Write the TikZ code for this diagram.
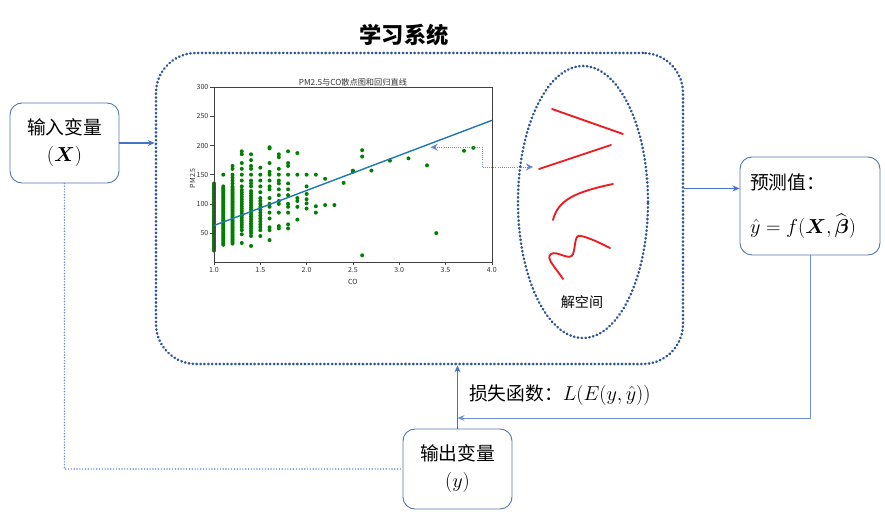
\documentclass[tikz,border=0pt]{standalone}
\usepackage{amsmath,amssymb}
\usepackage{fontspec}
\setmainfont{Noto Sans CJK SC}
\usepackage{tikz}
\usetikzlibrary{shapes.geometric, arrows.meta, positioning}
\definecolor{primary}{RGB}{47,85,151}
\definecolor{linkblue}{RGB}{68,114,196}
\definecolor{softblue}{RGB}{110,142,204}
\definecolor{boxedge}{RGB}{84,120,170}
\definecolor{dotgreen}{RGB}{0,128,0}
\definecolor{fitblue}{RGB}{31,119,180}
\definecolor{redline}{RGB}{232,30,36}
\tikzset{
    varbox/.style={rectangle, rounded corners=0.36cm, draw=boxedge, line width=0.8pt, minimum width=3.27cm, minimum height=2.4cm, text centered, align=center, font=\fontsize{16}{23}\selectfont},
    dotline/.style={draw=primary, line width=2.2pt, line cap=round, dash pattern=on 0.4pt off 2.9pt},
    flow/.style={-{Stealth[length=6pt,width=5pt]}, line width=1.1pt, draw=linkblue},
    back/.style={-{Stealth[length=6pt,width=5pt]}, line width=0.8pt, draw=softblue},
    link/.style={draw=softblue, line width=1.4pt, line cap=round, dash pattern=on 0pt off 2.4pt},
    pointer/.style={{Stealth[length=6pt,width=6pt,fill=linkblue]}-{Stealth[length=6pt,width=6pt,fill=linkblue]}, draw=softblue, line width=0.8pt, densely dotted},
    ticklab/.style={font=\fontsize{6}{7}\selectfont, text=black!80, inner sep=1.5pt},
    solution/.style={draw=redline, line width=1.6pt, line cap=round}
}

\begin{document}
\begin{tikzpicture}[x=0.03cm, y=-0.03cm]
    \useasboundingbox (0,0) rectangle (885,517);

    % Learning system
    \node[rectangle, rounded corners=1.2cm, dotline, minimum width=15.81cm, minimum height=9.33cm] (sys) at (419.5,208.5) {};
    \node[font=\fontsize{19}{22}\selectfont\bfseries] (title) at (404,35) {学习系统};

    % Scatter points
    \foreach \c/\ys in {1.0/{20,22.5,...,135}, 1.1/{30,32.5,...,130,150},
        1.2/{32,34.5,...,130,135,140,145,150,160,165},
        1.3/{33,48,55,60,64,...,124,130,140,150,160,170,185,190},
        1.4/{28,45,50,54,...,122,130,135,140,150,160,165,175,185},
        1.5/{45,55,60,...,110,120,130,140,150,162},
        1.6/{38,55,60,75,85,95,100,110,125,130,140,150,155,170,195,197},
        1.7/{58,62,85,100,105,115,125,135,140,150,160,180,185},
        1.8/{58,65,85,95,100,115,125,135,150,165,170,190},
        1.9/{73,95,105,110,150,187}, 2.0/{92,101,108,117,130,150},
        2.1/{85,96,150}, 2.2/{98,143}, 2.3/{98}, 2.4/{136}, 2.5/{155,157},
        2.6/{12,181,192}, 2.7/{157}, 2.9/{174}, 3.1/{178}, 3.3/{166},
        3.4/{50}, 3.7/{191}, 3.8/{196}} {
        \foreach \v in \ys {
            \fill[dotgreen] (121.4+92.6*\c, 262.3-0.584*\v) circle[radius=2];
        }
    }

    % Plot frame, fit line and ticks
    \begin{scope}[shift={(121.4,262.3)}, xscale=92.6, yscale=-0.584]
        \draw[black!75, line width=0.5pt] (1,0) rectangle (4,300);
        \draw[fitblue, line width=1.2pt] (1,63) -- (4,243);
        \foreach \v in {50,100,150,200,250,300} {
            \draw[black!75, line width=0.4pt] (1,\v) -- ++(-0.04,0) node[left, ticklab] {\v};
        }
        \foreach \c in {1.0,1.5,2.0,2.5,3.0,3.5,4.0} {
            \draw[black!75, line width=0.4pt] (\c,0) -- ++(0,-5) node[below, ticklab] {\c};
        }
        \node[font=\fontsize{7}{8}\selectfont, text=black!80] (ptitle) at (2.5,308) {PM2.5与CO散点图和回归直线};
        \node[ticklab, rotate=90] (ylab) at (0.77,144) {PM2.5};
        \node[ticklab] (xlab) at (2.5,-34) {CO};
        \coordinate (reg) at (3.34,197);
    \end{scope}

    % Solution space
    \node[ellipse, dotline, minimum width=3.9cm, minimum height=8.16cm] (space) at (583,202) {};
    \node[font=\fontsize{12}{14}\selectfont] (spacelab) at (582,302) {解空间};
    \draw[solution] (552,109) -- (623,134);
    \draw[solution] (539,169) -- (611,145);
    \draw[solution] (553,220) .. controls (558,200) and (575,192) .. (613,184);
    \draw[solution] (563,279) .. controls (556,268) and (545,258) .. (551,254)
        .. controls (557,250) and (570,262) .. (573,254)
        .. controls (576,246) and (574,234) .. (581,236)
        .. controls (590,238) and (600,243) .. (610,248);

    % Fit line to solution space
    \coordinate (bend) at (482,157);
    \coordinate (sol) at (533,167);
    \draw[pointer] (reg) -| (bend) |- (sol);

    % Input, prediction and output
    \node[varbox] (inp) at (64.5,143) {输入变量\\$(\boldsymbol{X})$};
    \node[varbox, minimum width=4.2cm, minimum height=2.94cm, text width=3.6cm, align=left] (pred) at (810,206) {预测值：\\[14pt]$\hat{y}=f(\boldsymbol{X},\widehat{\boldsymbol{\beta}})$};
    \node[varbox] (outp) at (457.5,469) {输出变量\\$(y)$};
    \node[anchor=west, font=\fontsize{16}{20}\selectfont] (loss) at (465,395) {损失函数：$L(E(y,\hat{y}))$};

    % Connectors
    \coordinate (merge) at (457.5,418);
    \draw[flow] (inp.east) -- (inp.east -| sys.west);
    \draw[flow] (sys.east |- pred.166) -- (pred.166);
    \draw[back] (pred.south) |- (merge);
    \draw[flow] (outp.north) -- (outp.north |- sys.south);
    \draw[link] (inp.south) |- (outp.west);
\end{tikzpicture}
\end{document}
